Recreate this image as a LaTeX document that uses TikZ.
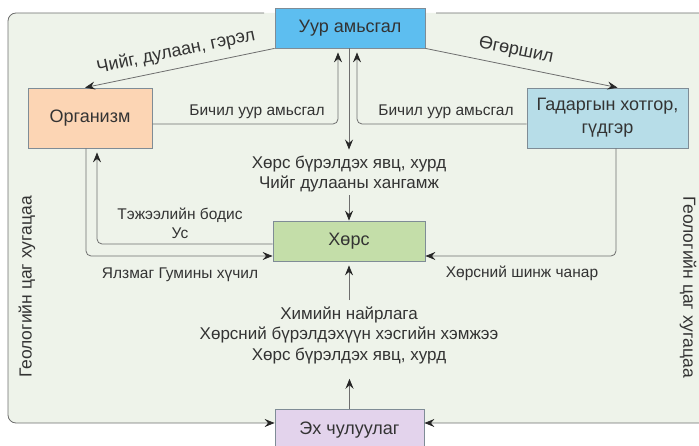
\documentclass[tikz,border=0pt]{standalone}
\usepackage{fontspec}
\setmainfont{Liberation Sans}
\usetikzlibrary{arrows.meta,calc}
\definecolor{framefill}{HTML}{EEF3EA}
\definecolor{lineclr}{HTML}{6E6E6E}
\definecolor{boxline}{HTML}{7F8C96}
\definecolor{txt}{HTML}{333333}
\definecolor{uurfill}{HTML}{5DBEF0}
\definecolor{orgfill}{HTML}{FCD5B4}
\definecolor{gadfill}{HTML}{B7DDE8}
\definecolor{horsfill}{HTML}{C4DEA9}
\definecolor{ehfill}{HTML}{E3D3EC}
\begin{document}
\begin{tikzpicture}[x=1pt,y=-1pt,
  box/.style={draw=boxline, line width=0.8pt, minimum height=40pt, inner sep=0pt, align=center, text=txt, font=\fontsize{18}{23}\selectfont},
  conn/.style={draw=lineclr, line width=0.8pt, rounded corners=5pt},
  arr/.style={conn, -{Stealth[length=10pt,width=8pt,inset=3.5pt,color=black!85]}},
  lbl/.style={text=txt, font=\fontsize{15.5}{19}\selectfont, inner sep=0pt, align=center},
  slopelbl/.style={text=txt, font=\fontsize{18}{21}\selectfont, inner sep=0pt},
  midlbl/.style={text=txt, font=\fontsize{17}{20.5}\selectfont, inner sep=0pt, align=center},
  sidelbl/.style={text=txt, font=\fontsize{17.5}{20}\selectfont, inner sep=0pt}]
\useasboundingbox (0,0) rectangle (699,446);
\fill[framefill, rounded corners=8pt] (8,13) rectangle (730,423);

% boxes
\node[box, fill=uurfill, minimum width=150pt] (uur) at (350,28) {Уур амьсгал};
\node[box, fill=orgfill, minimum width=124pt, minimum height=60pt] (org) at (90,118) {Организм};
\node[box, fill=gadfill, minimum width=161pt, minimum height=60pt] (gad) at (607.5,118) {Гадаргын хотгор,\\гүдгэр};
\node[box, fill=horsfill, minimum width=152pt] (hors) at (349,241) {Хөрс};
\node[box, fill=ehfill, minimum width=149pt, minimum height=42pt] (eh) at (349.5,430) {Эх чулуулаг};

% middle texts
\node[midlbl] (mid1) at (349,174) {Хөрс бүрэлдэх явц, хурд\\Чийг дулааны хангамж};
\node[midlbl] (mid2) at (349,335) {Химийн найрлага\\Хөрсний бүрэлдэхүүн хэсгийн хэмжээ\\Хөрс бүрэлдэх явц, хурд};

% frame coordinates
\coordinate (ftl) at (264,13);
\coordinate (fcl) at (8,13);
\coordinate (fbl) at (8,423);
\coordinate (ftr) at (436,13);
\coordinate (fcr) at (730,13);
\coordinate (fbr) at (730,423);
\draw[arr, rounded corners=8pt] (ftl) -- (fcl) -- (fbl) -- ([yshift=7pt]eh.west);
\draw[arr, rounded corners=8pt] (ftr) -- (fcr) -- (fbr) -- ([yshift=7pt]eh.east);

% top diagonals
\draw[arr] (uur.south west) -- ([xshift=-5pt]org.north);
\draw[arr] (uur.south east) -- ([xshift=10pt]gad.north);
\node[slopelbl, rotate=12] (l1) at (176,52) {Чийг, дулаан, гэрэл};
\node[slopelbl, rotate=-11.5] (l2) at (516,51) {Өгөршил};

% micro climate
\draw[arr, shorten >=4pt] ([yshift=-6pt]org.east) -| ([xshift=-12pt]uur.south);
\draw[arr, shorten >=4pt] ([yshift=-6pt]gad.west) -| ([xshift=7pt]uur.south);
\node[lbl] (l3) at (257,112) {Бичил уур амьсгал};
\node[lbl] (l4) at (446,112) {Бичил уур амьсгал};

% centre vertical
\draw[arr, shorten >=6pt] ([xshift=-1pt]uur.south) -- (mid1.north -| hors.north);
\draw[arr] ([yshift=-3pt]mid1.south -| hors.north) -- (hors.north);
\draw[arr, shorten >=15pt] (eh.north) -- (mid2.south -| eh.north);
\draw[arr, shorten >=4pt] ([yshift=6pt]mid2.north -| hors.south) -- (hors.south);

% organism - soil
\draw[arr] ([xshift=-4pt]org.south) |- ([yshift=-15pt]hors.west);
\draw[arr, shorten >=4pt] ([yshift=-3pt]hors.west) -| ([xshift=7pt]org.south);
\node[lbl] (l5) at (180,223) {Тэжээлийн бодис\\Ус};
\node[lbl] (l6) at (180,275) {Ялзмаг Гумины хүчил};

% relief - soil
\draw[arr] ([xshift=8.5pt]gad.south) |- ([yshift=-15pt]hors.east);
\node[lbl] (l7) at (522,273) {Хөрсний шинж чанар};

% side labels
\node[sidelbl, rotate=90] (sl) at (27,287) {Геологийн цаг хугацаа};
\node[sidelbl, rotate=-90] (sr) at (688,287) {Геологийн цаг хугацаа};
\end{tikzpicture}
\end{document}
